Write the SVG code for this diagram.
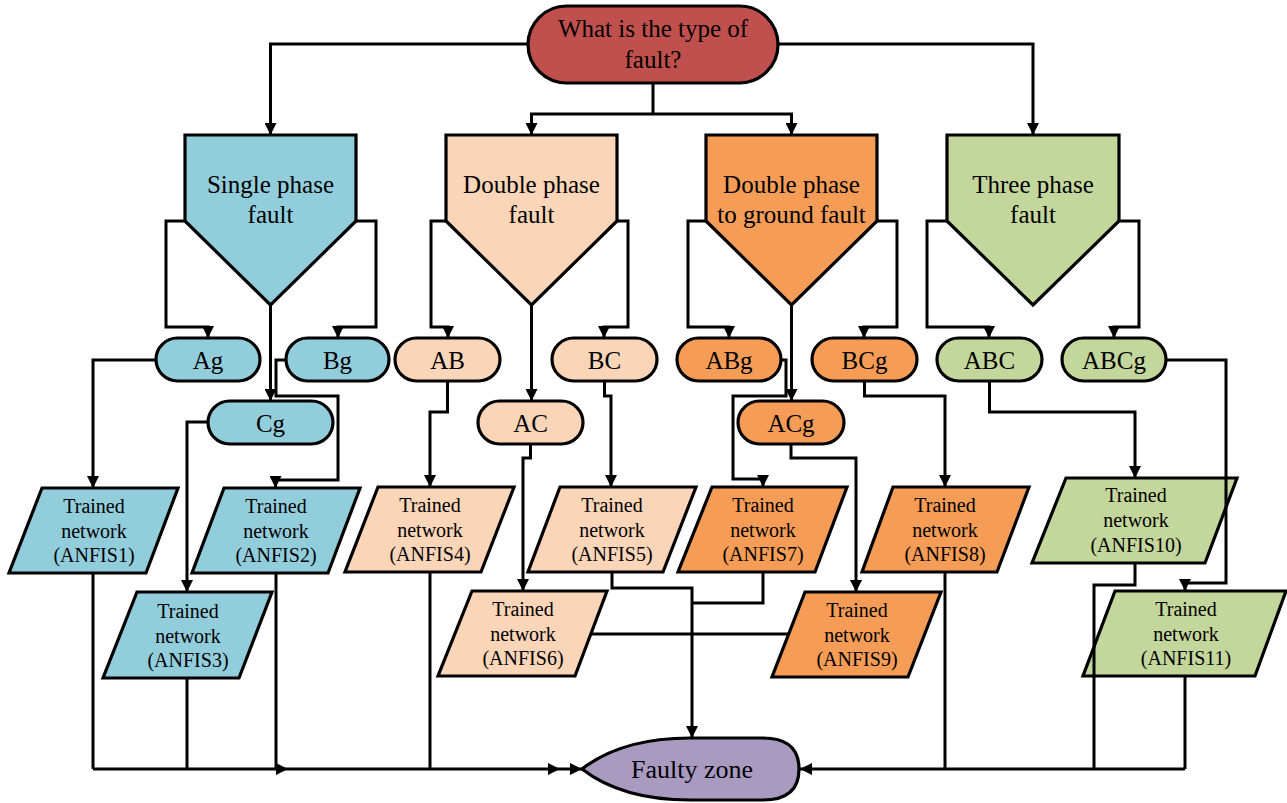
<svg xmlns="http://www.w3.org/2000/svg" width="1287" height="803" viewBox="0 0 1287 803" font-family="'Liberation Serif','Times New Roman',serif">
<defs>
<marker id="ah" markerUnits="userSpaceOnUse" markerWidth="13" markerHeight="12" refX="12" refY="6" orient="auto">
<path d="M0,0 L12,6 L0,12 z" fill="#000"/>
</marker>
<style>
.n{stroke:#000;stroke-width:3.2;stroke-linejoin:miter}
.blue{fill:#92CDDC}.peach{fill:#FBD5B8}.orange{fill:#F59D56}.green{fill:#C3D69B}.red{fill:#C0504D}.purple{fill:#A99BC0}
text{font-family:"Liberation Serif","Times New Roman",serif;fill:#000;text-anchor:middle}
.big{font-size:25px}.pill{font-size:25px}.sm{font-size:20px}
.c{fill:none;stroke:#000;stroke-width:3;stroke-linejoin:miter}
.ca{fill:none;stroke:#000;stroke-width:3;marker-end:url(#ah)}
</style>
</defs>
<rect width="1287" height="803" fill="#fff"/>

<g id="top">
<rect class="n red" x="528" y="6" width="250" height="77" rx="38.5"/>
<text class="big" x="653" y="37">What is the type of</text>
<text class="big" x="653" y="68">fault?</text>
</g>

<g id="single">
<path class="n blue" d="M185,135 H356 V221 L270.5,305 L185,221 Z"/>
<text class="big" x="270.5" y="193">Single phase</text>
<text class="big" x="270.5" y="223">fault</text>
</g>
<g id="double">
<path class="n peach" d="M446,135 H617 V221 L531.5,305 L446,221 Z"/>
<text class="big" x="531.5" y="193">Double phase</text>
<text class="big" x="531.5" y="223">fault</text>
</g>
<g id="doubleg">
<path class="n orange" d="M706,135 H877 V221 L791.5,305 L706,221 Z"/>
<text class="big" x="791.5" y="193">Double phase</text>
<text class="big" x="791.5" y="223">to ground fault</text>
</g>
<g id="three">
<path class="n green" d="M947,135 H1119 V221 L1033,305 L947,221 Z"/>
<text class="big" x="1033" y="193">Three phase</text>
<text class="big" x="1033" y="223">fault</text>
</g>

<g id="Ag"><rect class="n blue" x="156" y="338" width="104" height="43" rx="21.5"/><text class="pill" x="208" y="369">Ag</text></g>
<g id="Bg"><rect class="n blue" x="286" y="338" width="103" height="43" rx="21.5"/><text class="pill" x="337.5" y="369">Bg</text></g>
<g id="Cg"><rect class="n blue" x="208" y="401" width="125" height="43" rx="21.5"/><text class="pill" x="270.5" y="432">Cg</text></g>
<g id="AB"><rect class="n peach" x="395" y="338" width="105" height="43" rx="21.5"/><text class="pill" x="447.5" y="369">AB</text></g>
<g id="BC"><rect class="n peach" x="552" y="338" width="105" height="43" rx="21.5"/><text class="pill" x="604.5" y="369">BC</text></g>
<g id="AC"><rect class="n peach" x="478" y="401" width="105" height="43" rx="21.5"/><text class="pill" x="530.5" y="432">AC</text></g>
<g id="ABg"><rect class="n orange" x="677" y="338" width="104" height="43" rx="21.5"/><text class="pill" x="729" y="369">ABg</text></g>
<g id="BCg"><rect class="n orange" x="812" y="338" width="105" height="43" rx="21.5"/><text class="pill" x="864.5" y="369">BCg</text></g>
<g id="ACg"><rect class="n orange" x="738" y="401" width="106" height="43" rx="21.5"/><text class="pill" x="791" y="432">ACg</text></g>
<g id="ABC"><rect class="n green" x="937" y="338" width="105" height="43" rx="21.5"/><text class="pill" x="989.5" y="369">ABC</text></g>
<g id="ABCg"><rect class="n green" x="1062" y="338" width="104" height="43" rx="21.5"/><text class="pill" x="1114" y="369">ABCg</text></g>

<g id="anfis1"><path class="n blue" d="M42,488 H178 L146,573 H9 Z"/><text class="sm" x="94" y="513">Trained</text><text class="sm" x="94" y="538">network</text><text class="sm" x="94" y="562">(ANFIS1)</text></g>
<g id="anfis2"><path class="n blue" d="M224,488 H360 L328,573 H192 Z"/><text class="sm" x="276" y="513">Trained</text><text class="sm" x="276" y="538">network</text><text class="sm" x="276" y="562">(ANFIS2)</text></g>
<g id="anfis3"><path class="n blue" d="M137,592 H272 L239,678 H103 Z"/><text class="sm" x="188" y="618">Trained</text><text class="sm" x="188" y="643">network</text><text class="sm" x="188" y="667">(ANFIS3)</text></g>
<g id="anfis4"><path class="n peach" d="M378,487 H514 L481,572 H345 Z"/><text class="sm" x="430" y="512">Trained</text><text class="sm" x="430" y="537">network</text><text class="sm" x="430" y="561">(ANFIS4)</text></g>
<g id="anfis5"><path class="n peach" d="M560,487 H696 L663,572 H528 Z"/><text class="sm" x="612" y="512">Trained</text><text class="sm" x="612" y="537">network</text><text class="sm" x="612" y="561">(ANFIS5)</text></g>
<g id="anfis6"><path class="n peach" d="M472,591 H607 L575,676 H438 Z"/><text class="sm" x="523" y="616">Trained</text><text class="sm" x="523" y="641">network</text><text class="sm" x="523" y="665">(ANFIS6)</text></g>
<g id="anfis7"><path class="n orange" d="M712,487 H847 L815,572 H678 Z"/><text class="sm" x="763" y="512">Trained</text><text class="sm" x="763" y="537">network</text><text class="sm" x="763" y="561">(ANFIS7)</text></g>
<g id="anfis8"><path class="n orange" d="M893,487 H1029 L997,572 H862 Z"/><text class="sm" x="945" y="512">Trained</text><text class="sm" x="945" y="537">network</text><text class="sm" x="945" y="561">(ANFIS8)</text></g>
<g id="anfis9"><path class="n orange" d="M805,592 H941 L908,677 H772 Z"/><text class="sm" x="857" y="617">Trained</text><text class="sm" x="857" y="642">network</text><text class="sm" x="857" y="666">(ANFIS9)</text></g>
<g id="anfis10"><path class="n green" d="M1066,478 H1237 L1205,563 H1032 Z"/><text class="sm" x="1136" y="502">Trained</text><text class="sm" x="1136" y="527">network</text><text class="sm" x="1136" y="552">(ANFIS10)</text></g>
<g id="anfis11"><path class="n green" d="M1115,591 H1286 L1255,676 H1083 Z"/><text class="sm" x="1186" y="616">Trained</text><text class="sm" x="1186" y="641">network</text><text class="sm" x="1186" y="665">(ANFIS11)</text></g>

<g id="faulty">
<path class="n purple" d="M582,769 Q622,738 690,738 L763,738 Q799,738 799,769 Q799,800 763,800 L690,800 Q622,800 582,769 Z"/>
<text x="692" y="778" style="font-size:26px">Faulty zone</text>
</g>

<g id="connectors">
<path class="ca" d="M528,44 H270.5 V135"/>
<path class="ca" d="M778,44 H1033 V135"/>
<path class="c" d="M653,83 V114"/>
<path class="ca" d="M653,114 H531.5 V135"/>
<path class="ca" d="M653,114 H791.5 V135"/>

<path class="ca" d="M185,221 H166 V327 H208 V338"/>
<path class="ca" d="M356,221 H376 V327 H338 V338"/>
<path class="ca" d="M270.5,305 V401"/>
<path class="ca" d="M446,221 H431 V327 H448 V338"/>
<path class="ca" d="M617,221 H628 V327 H604 V338"/>
<path class="ca" d="M531.5,305 V401"/>
<path class="ca" d="M706,221 H688 V327 H729 V338"/>
<path class="ca" d="M877,221 H897 V327 H864 V338"/>
<path class="ca" d="M791.5,305 V401"/>
<path class="ca" d="M947,221 H927 V327 H989 V338"/>
<path class="ca" d="M1119,221 H1139 V327 H1114 V338"/>

<path class="ca" d="M156,360 H93 V488"/>
<path class="ca" d="M286,360 H276 V396 H338 V480 H275.5 V488"/>
<path class="ca" d="M208,422 H187 V592"/>
<path class="ca" d="M447.5,381 V412 H430 V487"/>
<path class="ca" d="M604.5,381 V396 H611 V487"/>
<path class="ca" d="M530.5,444 V458 H523 V591"/>
<path class="ca" d="M781,360 H786 V396 H733 V479 H763 V487"/>
<path class="ca" d="M791,444 V458 H856 V592"/>
<path class="ca" d="M864.5,381 V396 H945 V487"/>
<path class="ca" d="M989.5,381 V412 H1135 V478"/>
<path class="ca" d="M1166,360 H1226 V583 H1185 V591"/>

<path class="c" d="M93,573 V769"/>
<path class="c" d="M187,678 V769"/>
<path class="c" d="M276,573 V769"/>
<path class="ca" d="M93,769 H288"/>
<path class="ca" d="M288,769 H560"/>
<path class="ca" d="M560,769 H582"/>
<path class="c" d="M430,572 V769"/>

<path class="ca" d="M612,572 V588 H692 V738"/>
<path class="c" d="M763,572 V603 H692"/>
<path class="c" d="M592,634 H788"/>

<path class="c" d="M945,572 V769"/>
<path class="c" d="M1135,563 V585 H1094 V769"/>
<path class="c" d="M1185,676 V769"/>
<path class="ca" d="M1185,769 H800"/>
</g>
</svg>
